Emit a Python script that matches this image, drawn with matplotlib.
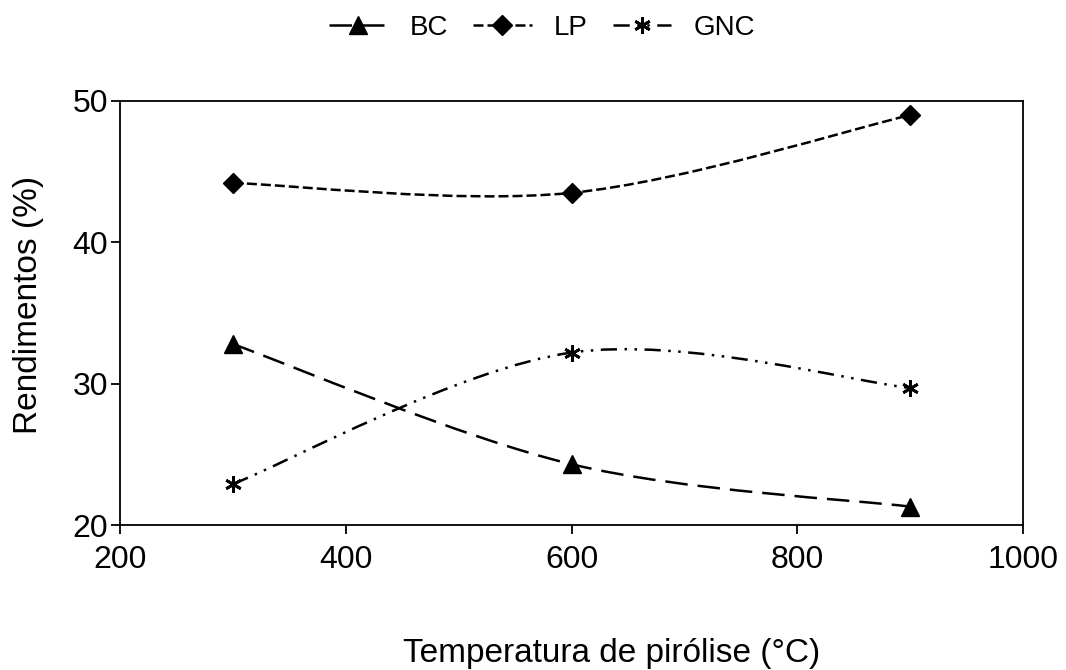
import numpy as np
import matplotlib.pyplot as plt
from matplotlib.path import Path
from matplotlib.patches import PathPatch
from matplotlib.lines import Line2D

plt.rcParams['font.family'] = ['Liberation Sans', 'DejaVu Sans']

# Data
temperatures = [300, 600, 900]
bc = [32.8, 24.3, 21.3]
lp = [44.2, 43.5, 49.0]
gnc = [22.9, 32.2, 29.7]


def smooth_path(xs, ys):
    # Excel-style smoothed line: cubic Bezier through the points
    pts = np.column_stack([xs, ys]).astype(float)
    n = len(pts)
    verts = [pts[0]]
    codes = [Path.MOVETO]
    for i in range(n - 1):
        p0 = pts[i - 1] if i > 0 else pts[i]
        p1 = pts[i]
        p2 = pts[i + 1]
        p3 = pts[i + 2] if i + 2 < n else pts[i + 1]
        c1 = p1 + (p2 - p0) / 6
        c2 = p2 - (p3 - p1) / 6
        verts += [c1, c2, p2]
        codes += [Path.CURVE4] * 3
    return Path(verts, codes)


fig = plt.figure(figsize=(10.66, 6.70), dpi=100)
ax = fig.add_axes([0.1126, 0.2164, 0.8471, 0.6329])

lw = 1.8
series = [
    ('BC', bc, (0, (9, 4)), '^', 13, 1),
    ('LP', lp, (0, (4, 1.6)), 'D', 10, 1),
    ('GNC', gnc, (0, (6.5, 3, 1, 3, 1, 3)), (6, 2, 0), 12, 2),
]

handles = []
for name, vals, ls, mk, ms, mew in series:
    patch = PathPatch(smooth_path(temperatures, vals), facecolor='none',
                      edgecolor='black', lw=lw, linestyle=ls,
                      transform=ax.transData, zorder=2)
    ax.add_patch(patch)
    ax.plot(temperatures, vals, linestyle='none', marker=mk, markersize=ms,
            color='black', markeredgewidth=mew, zorder=3)
    handles.append(Line2D([], [], color='black', lw=lw, linestyle=ls,
                          marker=mk, markersize=ms, markeredgewidth=mew,
                          label=name))

ax.set_xlim(200, 1000)
ax.set_ylim(20, 50)
ax.set_xticks([200, 400, 600, 800, 1000])
ax.set_yticks([20, 30, 40, 50])
ax.tick_params(direction='out', length=6.5, width=1.3, labelsize=23)
ax.tick_params(axis='x', pad=8)
ax.tick_params(axis='y', pad=2)
for sp in ax.spines.values():
    sp.set_linewidth(1.3)

fig.text(28 / 1066, 1 - 305 / 670, 'Rendimentos (%)', rotation=90,
         ha='center', va='center', fontsize=24)
fig.text(612 / 1066, 1 - 662 / 670, 'Temperatura de pirólise (°C)',
         ha='center', va='baseline', fontsize=24)

fig.legend(handles=handles, loc='center',
           bbox_to_anchor=(542 / 1066, 1 - 28 / 670),
           ncol=3, frameon=False, fontsize=20, handlelength=2.1,
           handletextpad=0.8, columnspacing=0.9, borderpad=0)

plt.savefig('out.png', dpi=100)
